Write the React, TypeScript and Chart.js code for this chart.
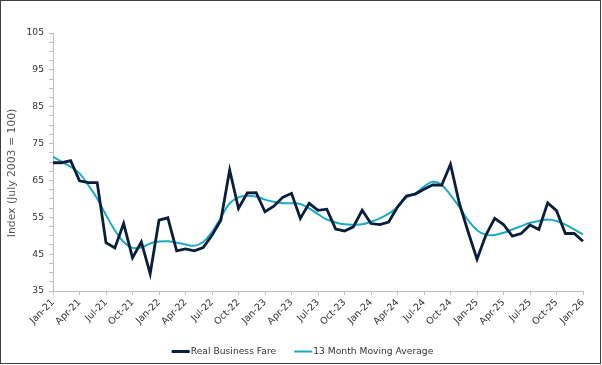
import React, { useEffect, useRef } from "react";
import { Chart, registerables } from "chart.js";

Chart.register(...registerables);

const MONTH_NAMES = ["Jan", "Feb", "Mar", "Apr", "May", "Jun", "Jul", "Aug", "Sep", "Oct", "Nov", "Dec"];
const YEARS = ["21", "22", "23", "24", "25", "26"];
const months: string[] = [];
YEARS.forEach((yr) => MONTH_NAMES.forEach((m) => months.push(`${m}-${yr}`)));
const categories = months.slice(0, 61); // Jan-21 .. Jan-26

const realBusinessFare = [
  69.8, 69.8, 70.35, 64.9, 64.4, 64.4, 48.1, 46.7, 53.3, 44.0, 48.3, 39.7,
  54.2, 54.85, 45.9, 46.4, 45.9, 46.8, 50.1, 54.2, 67.8, 57.4, 61.65, 61.7,
  56.5, 58.0, 60.4, 61.5, 54.7, 58.8, 56.9, 57.2, 51.8, 51.3, 52.4, 56.9,
  53.3, 53.0, 53.7, 57.8, 60.8, 61.3, 62.6, 63.8, 63.7, 69.4, 58.8, 51.0,
  43.6, 50.1, 54.7, 53.05, 49.9, 50.6, 52.9, 51.7, 58.9, 56.8, 50.6, 50.6,
  48.5,
];

const movingAverage13 = [
  71.4, 70.1, 68.7, 66.9, 63.7, 60.1, 55.6, 51.5, 48.3, 46.7, 46.8, 47.9,
  48.4, 48.5, 48.1, 47.6, 47.3, 48.3, 51.0, 54.9, 58.8, 60.4, 60.85, 60.6,
  59.8, 59.2, 58.8, 58.8, 58.6, 57.4, 55.85, 54.4, 53.6, 53.1, 53.0, 53.1,
  53.8, 54.7, 56.0, 57.7, 60.3, 61.5, 63.3, 64.65, 63.8, 61.0, 57.8, 54.2,
  51.5, 50.3, 50.2, 50.8, 51.7, 52.6, 53.5, 54.0, 54.4, 54.0, 53.0, 51.7,
  50.3,
];

const yTicks = [35, 37.5, 40, 42.5, 45, 47.5, 50, 52.5, 55, 57.5, 60, 62.5, 65, 67.5, 70, 72.5, 75, 77.5, 80, 82.5, 85, 87.5, 90, 92.5, 95, 97.5, 100, 102.5, 105];
const yLabelled = [35, 45, 55, 65, 75, 85, 95, 105];

const seriesNames = ["Real Business Fare", "13 Month Moving Average"];
const seriesColors = ["#0b1d3c", "#1cabc4"];
const yTitle = "Index (July 2003 = 100)";

const FONT = "'DejaVu Sans', Verdana, sans-serif";
const AXIS_GRAY = "#bfbfbf";
const TEXT = "#333333";

const overlayPlugin = {
  id: "overlay",
  afterDraw(chart: any) {
    const ctx = chart.ctx;
    const area = chart.chartArea;
    ctx.save();
    // Y-axis title
    ctx.font = `10.8px ${FONT}`;
    ctx.fillStyle = "#5a5450";
    ctx.textAlign = "center";
    ctx.textBaseline = "middle";
    ctx.translate(11.5, (area.top + area.bottom) / 2 + 11);
    ctx.rotate(-Math.PI / 2);
    ctx.fillText(yTitle, 0, 0);
    ctx.restore();

    // Legend
    ctx.save();
    ctx.font = `9.2px ${FONT}`;
    ctx.textBaseline = "middle";
    ctx.textAlign = "left";
    const sw = 18;
    const gapText = 1;
    const gapItem = 18;
    const widths = seriesNames.map((n) => sw + gapText + ctx.measureText(n).width);
    const total = widths[0] + gapItem + widths[1];
    let x = chart.width / 2 + 2 - total / 2;
    const y = 350.5;
    seriesNames.forEach((n, i) => {
      ctx.strokeStyle = seriesColors[i];
      ctx.lineWidth = i === 0 ? 3 : 2;
      ctx.beginPath();
      ctx.moveTo(x, y);
      ctx.lineTo(x + sw, y);
      ctx.stroke();
      ctx.fillStyle = TEXT;
      ctx.fillText(n, x + sw + gapText, y + 0.5);
      x += widths[i] + gapItem;
    });
    ctx.restore();
  },
};

export default function App() {
  const ref = useRef<HTMLCanvasElement | null>(null);

  useEffect(() => {
    if (!ref.current) return;
    const chart = new Chart(ref.current, {
      type: "line",
      data: {
        labels: categories,
        datasets: [
          {
            label: seriesNames[0],
            data: realBusinessFare,
            borderColor: seriesColors[0],
            backgroundColor: seriesColors[0],
            borderWidth: 2.8,
            pointRadius: 0,
            tension: 0,
            borderJoinStyle: "miter",
          },
          {
            label: seriesNames[1],
            data: movingAverage13,
            borderColor: seriesColors[1],
            backgroundColor: seriesColors[1],
            borderWidth: 2,
            pointRadius: 0,
            tension: 0.4,
          },
        ],
      },
      options: {
        responsive: false,
        animation: false,
        layout: { padding: { top: 32, right: 17, bottom: 0, left: 0 } },
        plugins: {
          legend: { display: false },
          tooltip: { enabled: false },
        },
        scales: {
          x: {
            type: "category",
            afterFit: (scale: any) => {
              scale.height = 72;
            },
            border: { color: AXIS_GRAY, width: 1 },
            grid: {
              drawOnChartArea: false,
              tickLength: 4,
              color: (c: any) => (c.index % 3 === 0 ? AXIS_GRAY : "rgba(0,0,0,0)"),
            },
            ticks: {
              autoSkip: false,
              maxRotation: 45,
              minRotation: 45,
              padding: 2,
              color: TEXT,
              font: { family: FONT, size: 9.5 },
              callback: function (this: any, v: any, i: number) {
                return i % 3 === 0 ? categories[i] : "";
              },
            },
          },
          y: {
            type: "linear",
            min: 35,
            max: 105,
            afterFit: (scale: any) => {
              scale.width = 52;
            },
            afterBuildTicks: (scale: any) => {
              scale.ticks = yTicks.map((v) => ({ value: v }));
            },
            border: { color: AXIS_GRAY, width: 1 },
            grid: {
              drawOnChartArea: false,
              tickLength: 4,
              color: AXIS_GRAY,
            },
            ticks: {
              autoSkip: false,
              padding: 5,
              color: TEXT,
              font: { family: FONT, size: 9.2 },
              callback: (v: any) => (yLabelled.includes(Number(v)) ? String(v) : ""),
            },
          },
        },
      },
      plugins: [overlayPlugin],
    });
    return () => chart.destroy();
  }, []);

  return (
    <div
      style={{
        position: "absolute",
        left: 0,
        top: 0,
        width: 601,
        height: 364,
        border: "1px solid #404040",
        boxSizing: "border-box",
        background: "#fff",
      }}
    >
      <canvas ref={ref} width={599} height={362} style={{ display: "block" }} />
    </div>
  );
}
